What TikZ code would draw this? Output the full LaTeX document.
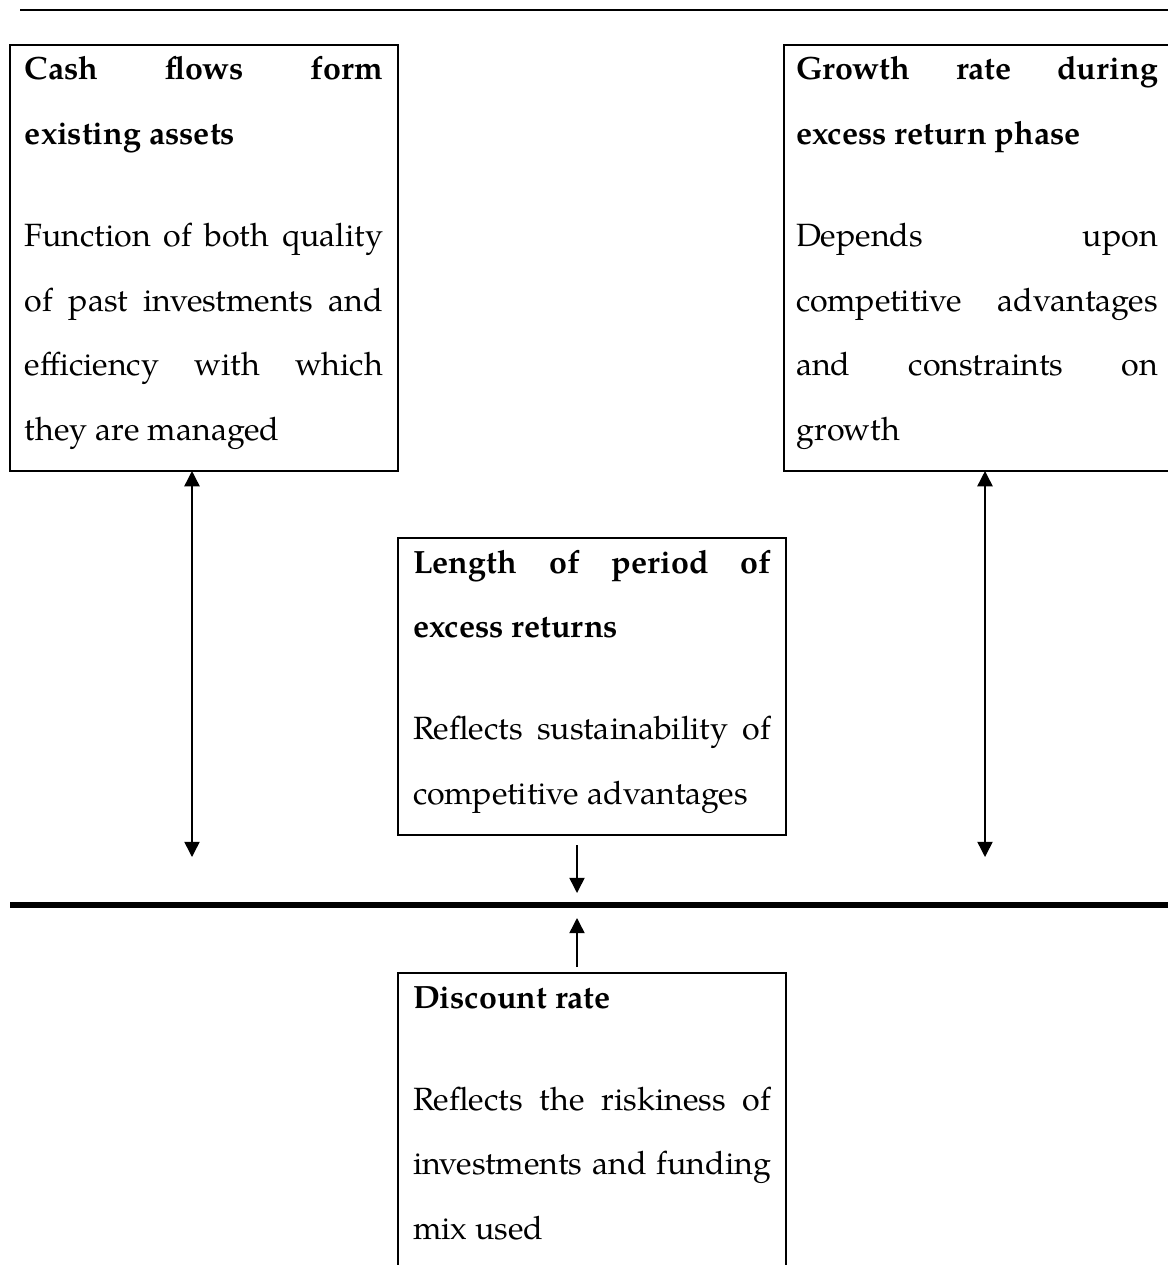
\documentclass[tikz,border=0pt]{standalone}
\usepackage{fontspec}
\setmainfont{texgyrepagella}[Extension=.otf, UprightFont=*-regular, BoldFont=*-bold, ItalicFont=*-italic, BoldItalicFont=*-bolditalic]
\usetikzlibrary{arrows.meta}
\newlength\pxu
\setlength\pxu{0.4333pt}
\hbadness=10000
\hfuzz=4pt
\newcommand\bxc[2]{\leavevmode\vrule height 35\pxu depth 0pt width 0pt\textbf{#1}\par\vspace{37.5\pxu}#2\vrule depth 31\pxu height 0pt width 0pt}
\begin{document}
\begin{tikzpicture}[x=0.4333pt, y=-0.4333pt,
  box/.style={draw, line width=0.9pt, anchor=north west, inner xsep=15\pxu, inner ysep=0pt,
    outer sep=0pt, text width=358\pxu, align=justify,
    font={\fontsize{13.95pt}{27.95pt}\selectfont}},
  arr/.style={line width=0.65pt, -{Triangle[length=6.6pt, width=6.6pt]}},
  dbl/.style={line width=0.65pt, {Triangle[length=6.6pt, width=6.6pt]}-{Triangle[length=6.6pt, width=6.6pt]}}]
\useasboundingbox (0,0) rectangle (1167,1265);

% horizontal rules
\coordinate (t1) at (20,10);
\coordinate (t2) at (1190,10);
\draw[line width=2\pxu] (t1) -- (t2);
\coordinate (b1) at (10,905);
\coordinate (b2) at (1190,905);
\draw[line width=6\pxu] (b1) -- (b2);

% boxes
\node[box] (cf) at (10,45) {\bxc{Cash flows form\linebreak existing assets}{Function of both quality\linebreak of past investments and\linebreak efficiency with which\linebreak they are managed}};
\node[box, inner xsep=12\pxu, text width=362\pxu] (gr) at (784,45) {\bxc{Growth rate during\linebreak excess return phase}{Depends upon\linebreak competitive advantages\linebreak and constraints on\linebreak growth}};
\node[box] (lr) at (398,538) {\bxc{Length of period of\linebreak excess returns}{Reflects sustainability of\linebreak competitive advantages}};
\node[box] (dr) at (398,973) {\bxc{Discount rate}{Reflects the riskiness of\linebreak investments and funding\linebreak mix used}};

% connectors
\coordinate (la) at (192,857);
\draw[dbl] (la |- cf.south) -- (la);
\coordinate (ra) at (985,857);
\draw[dbl] (ra |- gr.south) -- (ra);
\coordinate (ma) at (577,845);
\coordinate (mb) at (577,893);
\draw[arr] (ma) -- (mb);
\coordinate (mc) at (577,967);
\coordinate (md) at (577,918);
\draw[arr] (mc) -- (md);
\end{tikzpicture}
\end{document}
